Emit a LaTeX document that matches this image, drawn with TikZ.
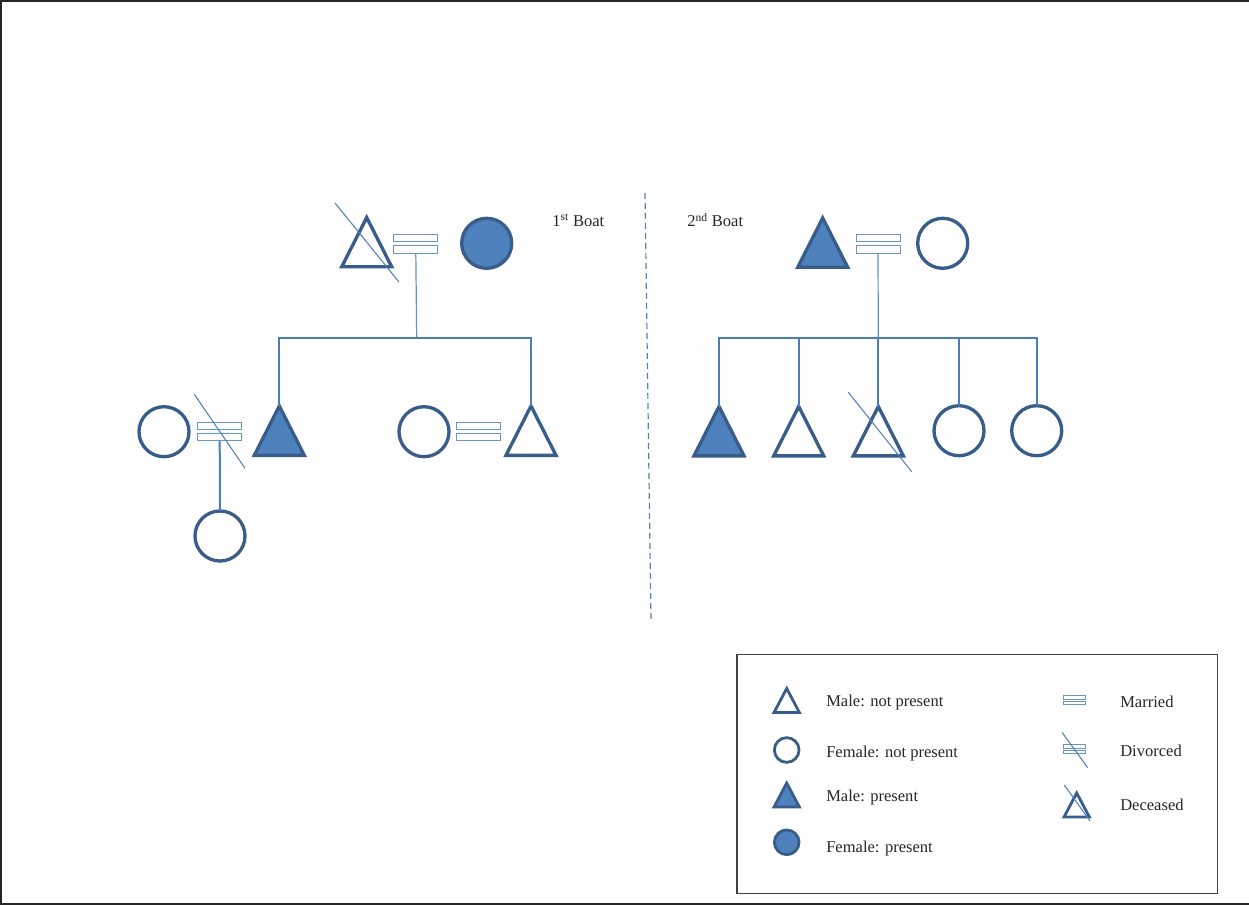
\documentclass[tikz,border=0pt]{standalone}
\usepackage{fontspec}
\setmainfont{Liberation Serif}
\usetikzlibrary{shapes.geometric}
\definecolor{edgeb}{HTML}{385D8A}
\definecolor{fillb}{HTML}{4F81BD}
\definecolor{connb}{HTML}{4A7EBB}
\definecolor{txt}{HTML}{262626}
\begin{document}
\begin{tikzpicture}[x=0.75pt,y=-0.75pt,
  male/.style={isosceles triangle, isosceles triangle stretches, shape border rotate=90,
    draw=edgeb, line width=2.5pt, minimum width=37.5pt, minimum height=37pt,
    inner sep=0pt, outer sep=0pt, anchor=apex, line join=miter},
  female/.style={circle, draw=edgeb, line width=2.5pt, minimum size=37.5pt,
    inner sep=0pt, outer sep=0pt},
  present/.style={fill=fillb},
  smale/.style={male, line width=2.1pt, minimum width=19pt, minimum height=18pt},
  sfemale/.style={female, line width=2.1pt, minimum size=18.5pt},
  marr/.style={rectangle, draw=fillb!85, line width=0.7pt, minimum width=33pt,
    minimum height=5.3pt, inner sep=0pt, outer sep=0pt},
  smarr/.style={marr, line width=0.55pt, minimum width=16.5pt, minimum height=2.5pt},
  conn/.style={draw=connb, line width=1.5pt},
  thinconn/.style={draw=connb!85, line width=0.9pt},
  slash/.style={draw=fillb, line width=0.8pt},
  lbl/.style={text=txt, font=\fontsize{12.4}{14}\selectfont, anchor=west, inner sep=0pt},
]
\useasboundingbox (0,0) rectangle (1249,905);
% page frame
\draw[black!85, line width=1.5pt] (1249,1) -- (1,1) -- (1,903.5) -- (1249,903.5);

% ---------- 1st boat ----------
\node[male] (g1) at (366.7,217.5) {};
\draw[slash] (335,203) -- (399,282);
\node[marr] (m1a) at (415.8,237.9) {};
\node[marr] (m1b) at (415.8,249.5) {};
\node[female, present] (g2) at (486.7,243.3) {};
\node[lbl] (t1) at (552,220) {1\textsuperscript{st} Boat};

\coordinate (j1) at (416.7,338);
\draw[thinconn] (m1b.south) -- (j1);
\node[male, present] (s1) at (279.3,406) {};
\node[male] (s2) at (531,406) {};
\draw[conn] (s1.apex) -- (s1.apex |- j1) -- (s2.apex |- j1) -- (s2.apex);

\node[female] (w1) at (164,431.7) {};
\node[marr] (m2a) at (219.7,425.5) {};
\node[marr] (m2b) at (219.7,437.2) {};
\draw[slash] (194.3,394.3) -- (245,468.3);
\node[female] (d1) at (220,536) {};
\draw[conn] (m2b.south) -- (d1.north);

\node[female] (w2) at (424,431.7) {};
\node[marr] (m3a) at (478.3,425.5) {};
\node[marr] (m3b) at (478.3,437.2) {};

% divider
\draw[fillb, line width=0.9pt, dash pattern=on 4.5pt off 3pt] (645,193) -- (651,620);

% ---------- 2nd boat ----------
\node[lbl] (t2) at (687,220) {2\textsuperscript{nd} Boat};
\node[male, present] (h1) at (822.7,218) {};
\node[marr] (m4a) at (878,237.9) {};
\node[marr] (m4b) at (878,249.5) {};
\node[female] (h2) at (942.7,243.3) {};

\coordinate (j2) at (878.3,338);
\draw[thinconn] (m4b.south) -- (j2);
\node[male, present] (k1) at (719,406.5) {};
\node[male] (k2) at (798.7,406.5) {};
\node[male] (k3) at (878.3,406.5) {};
\draw[slash] (848.3,392.3) -- (911.7,471.7);
\node[female] (k4) at (959,430.7) {};
\node[female] (k5) at (1036.7,430.7) {};
\draw[conn] (k1.apex) -- (k1.apex |- j2) -- (k5.north |- j2) -- (k5.north);
\draw[conn] (k2.apex) -- (k2.apex |- j2);
\draw[conn] (k3.apex) -- (j2);
\draw[conn] (k4.north) -- (k4.north |- j2);

% ---------- legend ----------
\draw[black!75, line width=1pt] (737,654.5) rectangle (1217.5,893.5);
\node[smale] (l1) at (786.7,688.5) {};
\node[lbl] (lt1) at (826,702.5) {Male: not present};
\node[sfemale] (l2) at (786.7,750) {};
\node[lbl] (lt2) at (826,753.5) {Female: not present};
\node[smale, present] (l3) at (786.7,783) {};
\node[lbl] (lt3) at (826,797.5) {Male: present};
\node[sfemale, present] (l4) at (786.7,842.3) {};
\node[lbl] (lt4) at (826,848.5) {Female: present};

\node[smarr] (l5a) at (1074.6,697.5) {};
\node[smarr] (l5b) at (1074.6,703) {};
\node[lbl] (lt5) at (1120,701.5) {Married};
\node[smarr] (l6a) at (1074.6,746.5) {};
\node[smarr] (l6b) at (1074.6,752) {};
\draw[slash] (1062,732.3) -- (1087.7,767.7);
\node[lbl] (lt6) at (1120,751) {Divorced};
\node[smale] (l7) at (1076.7,793) {};
\draw[slash] (1064.3,785) -- (1090,821);
\node[lbl] (lt7) at (1120,804.5) {Deceased};
\end{tikzpicture}
\end{document}
